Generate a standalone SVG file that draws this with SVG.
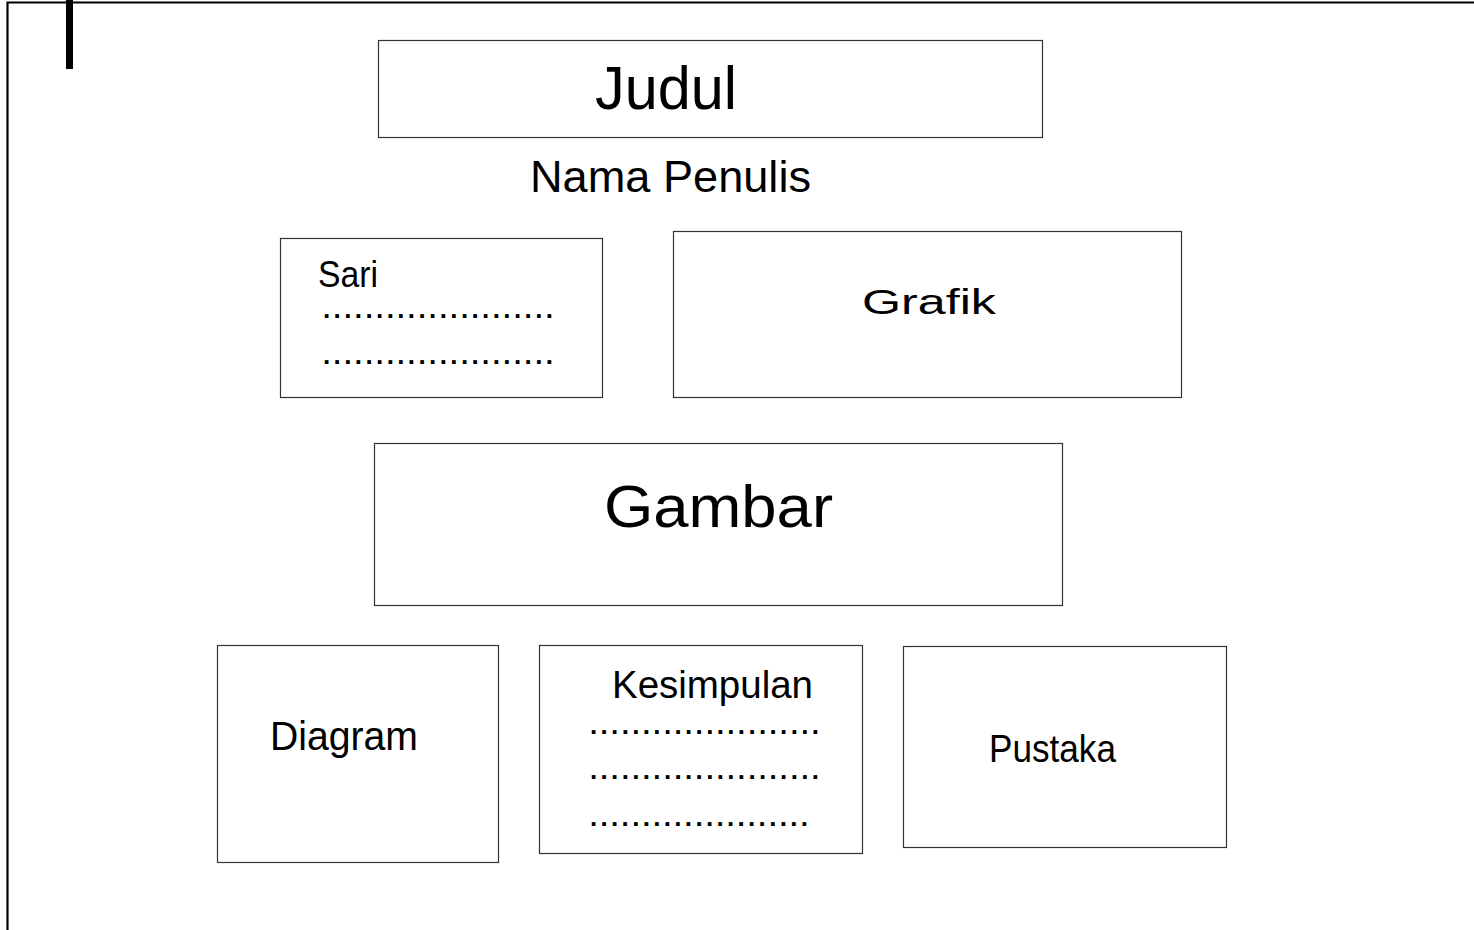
<svg xmlns="http://www.w3.org/2000/svg" width="1474" height="930" viewBox="0 0 1474 930">
  <style>
    .box { fill: #ffffff; stroke: #333333; stroke-width: 1.2; }
    .frame { fill: none; stroke: #000000; stroke-width: 2.2; }
    text { font-family: "Liberation Sans", Arial, sans-serif; fill: #000000; }
    .dots { font-size: 26px; font-weight: bold; }
  </style>
  <rect width="1474" height="930" fill="#ffffff"/>

  <!-- page frame -->
  <g id="frame">
    <path class="frame" d="M7.5,930 V2.5 H1474"/>
    <rect x="66" y="0" width="7" height="69" fill="#000000"/>
  </g>

  <g id="judul">
    <rect class="box" x="378.5" y="40.5" width="664" height="97"/>
    <text x="595" y="109" font-size="62" textLength="142" lengthAdjust="spacingAndGlyphs">Judul</text>
  </g>

  <g id="nama-penulis">
    <text x="530" y="192" font-size="45" textLength="281" lengthAdjust="spacingAndGlyphs">Nama Penulis</text>
  </g>

  <g id="sari">
    <rect class="box" x="280.5" y="238.5" width="322" height="159"/>
    <text x="318" y="287" font-size="36" textLength="60" lengthAdjust="spacingAndGlyphs">Sari</text>
    <text class="dots" x="323" y="318" textLength="230" lengthAdjust="spacing">......................</text>
    <text class="dots" x="323" y="364" textLength="230" lengthAdjust="spacing">......................</text>
  </g>

  <g id="grafik">
    <rect class="box" x="673.5" y="231.5" width="508" height="166"/>
    <text x="862" y="314" font-size="35" textLength="134" lengthAdjust="spacingAndGlyphs">Grafik</text>
  </g>

  <g id="gambar">
    <rect class="box" x="374.5" y="443.5" width="688" height="162"/>
    <text x="604" y="527" font-size="60" textLength="229" lengthAdjust="spacingAndGlyphs">Gambar</text>
  </g>

  <g id="diagram">
    <rect class="box" x="217.5" y="645.5" width="281" height="217"/>
    <text x="270" y="750" font-size="40" textLength="148" lengthAdjust="spacingAndGlyphs">Diagram</text>
  </g>

  <g id="kesimpulan">
    <rect class="box" x="539.5" y="645.5" width="323" height="208"/>
    <text x="612" y="698" font-size="38" textLength="201" lengthAdjust="spacingAndGlyphs">Kesimpulan</text>
    <text class="dots" x="590" y="734" textLength="229" lengthAdjust="spacing">......................</text>
    <text class="dots" x="590" y="779" textLength="229" lengthAdjust="spacing">......................</text>
    <text class="dots" x="590" y="826" textLength="218" lengthAdjust="spacing">.....................</text>
  </g>

  <g id="pustaka">
    <rect class="box" x="903.5" y="646.5" width="323" height="201"/>
    <text x="989" y="762" font-size="38" textLength="127" lengthAdjust="spacingAndGlyphs">Pustaka</text>
  </g>

  <!-- no connectors between the blocks -->
  <g id="connectors"/>
</svg>
